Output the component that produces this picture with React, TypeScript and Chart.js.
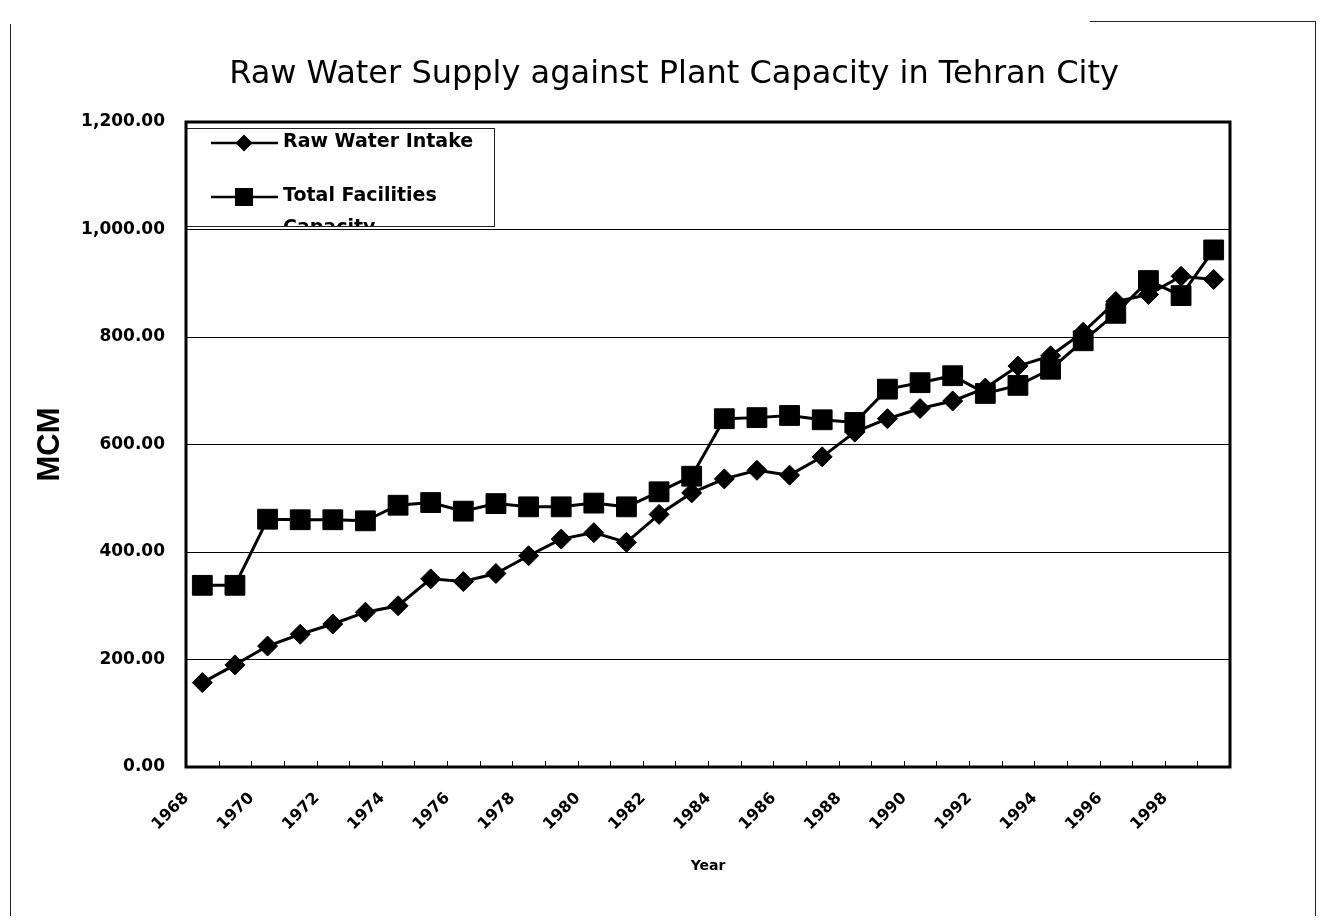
import React, { useEffect, useRef } from 'react';
import { Chart, registerables } from 'chart.js';

Chart.register(...registerables);

const years = [
  '1968', '1969', '1970', '1971', '1972', '1973', '1974', '1975',
  '1976', '1977', '1978', '1979', '1980', '1981', '1982', '1983',
  '1984', '1985', '1986', '1987', '1988', '1989', '1990', '1991',
  '1992', '1993', '1994', '1995', '1996', '1997', '1998', '1999',
];

const rawWaterIntake = [
  157, 190, 225, 247, 266, 288, 300, 350,
  345, 360, 393, 424, 436, 418, 470, 510,
  536, 552, 543, 577, 623, 648, 667, 681,
  705, 746, 765, 809, 866, 879, 913, 907,
];

const totalFacilitiesCapacity = [
  338, 338, 461, 460, 460, 458, 487, 492,
  476, 490, 484, 484, 491, 484, 512, 541,
  648, 650, 654, 646, 641, 703, 715, 728,
  695, 710, 740, 793, 844, 905, 877, 962,
];

const seriesLabels = ['Raw Water Intake', 'Total Facilities Capacity'];
const seriesMarkers = ['rectRot', 'rect'];
const chartTitle = 'Raw Water Supply against Plant Capacity in Tehran City';
const yAxisTitle = 'MCM';
const xAxisTitle = 'Year';
const yMin = 0;
const yMax = 1200;
const yStep = 200;

const FONT = '"DejaVu Sans", "Liberation Sans", sans-serif';

const drawMarker = (ctx: CanvasRenderingContext2D, style: string, x: number, y: number, r: number) => {
  ctx.beginPath();
  if (style === 'rectRot') {
    ctx.moveTo(x - r, y);
    ctx.lineTo(x, y - r);
    ctx.lineTo(x + r, y);
    ctx.lineTo(x, y + r);
    ctx.closePath();
  } else {
    ctx.rect(x - r, y - r, 2 * r, 2 * r);
  }
  ctx.fill();
};

const titlePlugin = {
  id: 'customTitle',
  afterDraw(chart: any) {
    const ctx = chart.ctx as CanvasRenderingContext2D;
    ctx.save();
    ctx.font = `32px ${FONT}`;
    ctx.fillStyle = '#000';
    ctx.textAlign = 'center';
    ctx.textBaseline = 'alphabetic';
    ctx.fillText(chartTitle, 666, 75);
    ctx.restore();
  },
};

const legendPlugin = {
  id: 'boxLegend',
  afterDatasetsDraw(chart: any) {
    const ctx = chart.ctx as CanvasRenderingContext2D;
    const { left, top } = chart.chartArea;
    const bx = left;
    const by = top + 6;
    const bw = 309;
    const bh = 99;
    ctx.save();
    ctx.fillStyle = '#fff';
    ctx.fillRect(bx, by, bw, bh);
    ctx.strokeStyle = '#222';
    ctx.lineWidth = 1;
    ctx.strokeRect(bx + 0.5, by + 0.5, bw - 1, bh - 1);
    ctx.beginPath();
    ctx.rect(bx + 1, by + 1, bw - 2, bh - 2);
    ctx.clip();
    ctx.font = `bold 19px ${FONT}`;
    ctx.fillStyle = '#000';
    ctx.textAlign = 'left';
    ctx.textBaseline = 'middle';
    const rowY = [by + 15, by + 69];
    const maxTextW = bw - 97 - 8;
    chart.data.datasets.forEach((ds: any, i: number) => {
      const y = rowY[i];
      ctx.strokeStyle = '#000';
      ctx.lineWidth = 2.5;
      ctx.beginPath();
      ctx.moveTo(bx + 25, y);
      ctx.lineTo(bx + 92, y);
      ctx.stroke();
      ctx.fillStyle = '#000';
      drawMarker(ctx, seriesMarkers[i], bx + 58, y, i === 0 ? 8.5 : 9);
      const words = String(ds.label).split(' ');
      const lines: string[] = [];
      let cur = '';
      words.forEach((w) => {
        const test = cur ? cur + ' ' + w : w;
        if (cur && ctx.measureText(test).width > maxTextW) {
          lines.push(cur);
          cur = w;
        } else {
          cur = test;
        }
      });
      if (cur) lines.push(cur);
      lines.forEach((ln, k) => {
        ctx.fillText(ln, bx + 97, y - 1 + k * 32);
      });
    });
    ctx.restore();
  },
};

const framePlugin = {
  id: 'plotFrame',
  afterDraw(chart: any) {
    const ctx = chart.ctx as CanvasRenderingContext2D;
    const { left, top, right, bottom } = chart.chartArea;
    ctx.save();
    ctx.strokeStyle = '#000';
    ctx.lineWidth = 1;
    const n = chart.data.labels.length;
    const w = (right - left) / n;
    ctx.beginPath();
    for (let i = 1; i < n; i++) {
      const x = Math.round(left + i * w) + 0.5;
      ctx.moveTo(x, bottom);
      ctx.lineTo(x, bottom - 6);
    }
    ctx.stroke();
    ctx.lineWidth = 3;
    ctx.strokeRect(left, top, right - left, bottom - top);
    ctx.restore();
  },
};

export default function App() {
  const canvasRef = useRef<HTMLCanvasElement | null>(null);

  useEffect(() => {
    if (!canvasRef.current) return;
    const chart = new Chart(canvasRef.current, {
      type: 'line',
      data: {
        labels: years,
        datasets: [
          {
            label: seriesLabels[0],
            data: rawWaterIntake,
            borderColor: '#000',
            backgroundColor: '#000',
            borderWidth: 3,
            pointStyle: seriesMarkers[0] as any,
            pointRadius: 10,
            pointBackgroundColor: '#000',
            pointBorderColor: '#000',
            pointBorderWidth: 1,
            tension: 0,
          },
          {
            label: seriesLabels[1],
            data: totalFacilitiesCapacity,
            borderColor: '#000',
            backgroundColor: '#000',
            borderWidth: 3,
            pointStyle: seriesMarkers[1] as any,
            pointRadius: 14,
            pointBackgroundColor: '#000',
            pointBorderColor: '#000',
            pointBorderWidth: 1,
            tension: 0,
          },
        ],
      },
      options: {
        responsive: false,
        maintainAspectRatio: false,
        animation: false,
        devicePixelRatio: 1,
        layout: { padding: { top: 114, right: 88, bottom: 0, left: 0 } },
        plugins: {
          legend: { display: false },
          tooltip: { enabled: false },
          title: { display: false },
        },
        scales: {
          x: {
            type: 'category',
            offset: true,
            grid: { display: false, drawTicks: false },
            border: { display: false },
            ticks: {
              autoSkip: false,
              maxRotation: 45,
              minRotation: 45,
              padding: 22,
              labelOffset: -16,
              color: '#000',
              font: { family: FONT, size: 16, weight: 'bold' },
              callback: (_v: any, i: number) => (i % 2 === 0 ? years[i] : ''),
            },
            title: {
              display: true,
              text: xAxisTitle,
              color: '#000',
              font: { family: FONT, size: 14, weight: 'bold' },
              padding: { top: 0, bottom: 41 },
            },
            afterFit: (s: any) => {
              s.height = 149;
            },
          },
          y: {
            min: yMin,
            max: yMax,
            grid: { color: '#000', lineWidth: 1, drawTicks: false },
            border: { display: false },
            ticks: {
              stepSize: yStep,
              padding: 21,
              color: '#000',
              font: { family: FONT, size: 17, weight: 'bold' },
              callback: (v: any) =>
                Number(v).toLocaleString('en-US', { minimumFractionDigits: 2, maximumFractionDigits: 2 }),
            },
            title: {
              display: true,
              text: yAxisTitle,
              color: '#000',
              font: { family: '"Liberation Sans", Arial, sans-serif', size: 31, weight: 'bold' },
              padding: { top: 24, bottom: 0 },
            },
            afterFit: (s: any) => {
              s.width = 178;
            },
          },
        },
      },
      plugins: [legendPlugin, framePlugin, titlePlugin],
    });
    return () => chart.destroy();
  }, []);

  return (
    <div style={{ position: 'relative', width: 1310, height: 908 }}>
      <canvas ref={canvasRef} width={1310} height={908} style={{ display: 'block', width: 1310, height: 908 }} />
      <div style={{ position: 'absolute', left: 2, top: 16, width: 1, height: 896, background: '#222' }} />
      <div style={{ position: 'absolute', left: 2, top: 911, width: 1306, height: 1, background: '#222' }} />
      <div style={{ position: 'absolute', left: 1307, top: 13, width: 1, height: 899, background: '#222' }} />
      <div style={{ position: 'absolute', left: 1082, top: 13, width: 226, height: 1, background: '#222' }} />
    </div>
  );
}
